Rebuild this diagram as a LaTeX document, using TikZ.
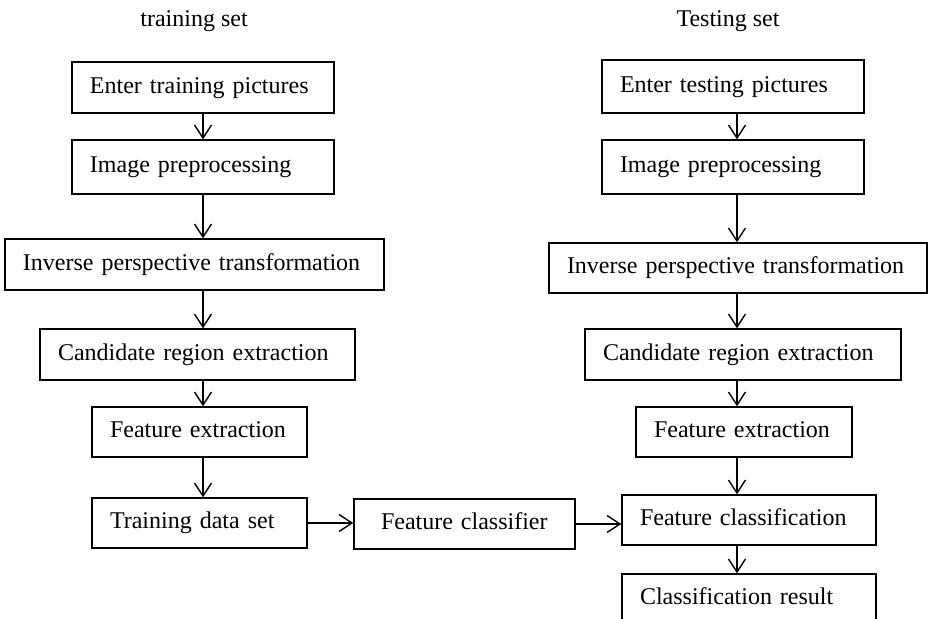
\documentclass[tikz,border=0pt]{standalone}
\usepackage{fontspec}
\setmainfont{Liberation Serif}
\usetikzlibrary{arrows.meta}
\begin{document}
\begin{tikzpicture}[x=0.5pt,y=-0.5pt,
  every node/.style={font=\fontsize{12pt}{14pt}\selectfont},
  bx/.style={draw, line width=0.7pt, inner xsep=9pt, inner ysep=0pt, align=left,
    text height=8.4pt, text depth=2.6pt, minimum height=25.5pt},
  arr/.style={line width=0.7pt, -{Straight Barb[length=6.5pt,width=8.5pt,line width=0.7pt]}},
  ttl/.style={anchor=base, inner sep=0pt}]
\clip (0,0) rectangle (928,619);
\fill[white] (0,0) rectangle (928,619);
% titles
\node[ttl] (tl) at (194,27) {training set};
\node[ttl] (tr) at (728,27) {Testing set};
% left column
\node[bx, text width=113pt] (L1) at (203,87.5) {Enter training pictures};
\node[bx, text width=113pt, minimum height=27pt] (L2) at (203,167) {Image preprocessing};
\node[bx, text width=171.5pt] (L3) at (194.5,264.5) {Inverse perspective transformation};
\node[bx, text width=139.5pt] (L4) at (197.5,354.5) {Candidate region extraction};
\node[bx, text width=89.5pt, minimum height=25pt] (L5) at (199.5,432) {Feature extraction};
\node[bx, text width=89.5pt, minimum height=25pt] (L6) at (199.5,523) {Training data set};
% middle
\node[bx, text width=83.5pt, inner xsep=13.5pt, minimum height=25pt] (C) at (464.5,524) {Feature classifier};
% right column
\node[bx, text width=113pt, minimum height=26.5pt] (R1) at (733,86.5) {Enter testing pictures};
\node[bx, text width=113pt, minimum height=27pt] (R2) at (733,167) {Image preprocessing};
\node[bx, text width=171pt, minimum height=25pt] (R3) at (738,268) {Inverse perspective transformation};
\node[bx, text width=140pt] (R4) at (743,354.5) {Candidate region extraction};
\node[bx, text width=90pt, minimum height=25pt] (R5) at (744,432) {Feature extraction};
\node[bx, text width=109pt, minimum height=25pt] (R6) at (749,520) {Feature classification};
\node[bx, text width=109pt, minimum height=25pt] (R7) at (749,599) {Classification result};
% axis coordinates
\coordinate (lx) at (203,0);
\coordinate (rx) at (737,0);
% left arrows
\draw[arr] (L1.south -| lx) -- (L2.north -| lx);
\draw[arr] (L2.south -| lx) -- (L3.north -| lx);
\draw[arr] (L3.south -| lx) -- (L4.north -| lx);
\draw[arr] (L4.south -| lx) -- (L5.north -| lx);
\draw[arr] (L5.south -| lx) -- (L6.north -| lx);
% right arrows
\draw[arr] (R1.south -| rx) -- (R2.north -| rx);
\draw[arr] (R2.south -| rx) -- (R3.north -| rx);
\draw[arr] (R3.south -| rx) -- (R4.north -| rx);
\draw[arr] (R4.south -| rx) -- (R5.north -| rx);
\draw[arr] (R5.south -| rx) -- (R6.north -| rx);
\draw[arr] (R6.south -| rx) -- (R7.north -| rx);
% horizontal arrows
\draw[arr] (L6.east) -- (L6.east -| C.west);
\draw[arr] (C.east) -- (C.east -| R6.west);
\end{tikzpicture}
\end{document}
